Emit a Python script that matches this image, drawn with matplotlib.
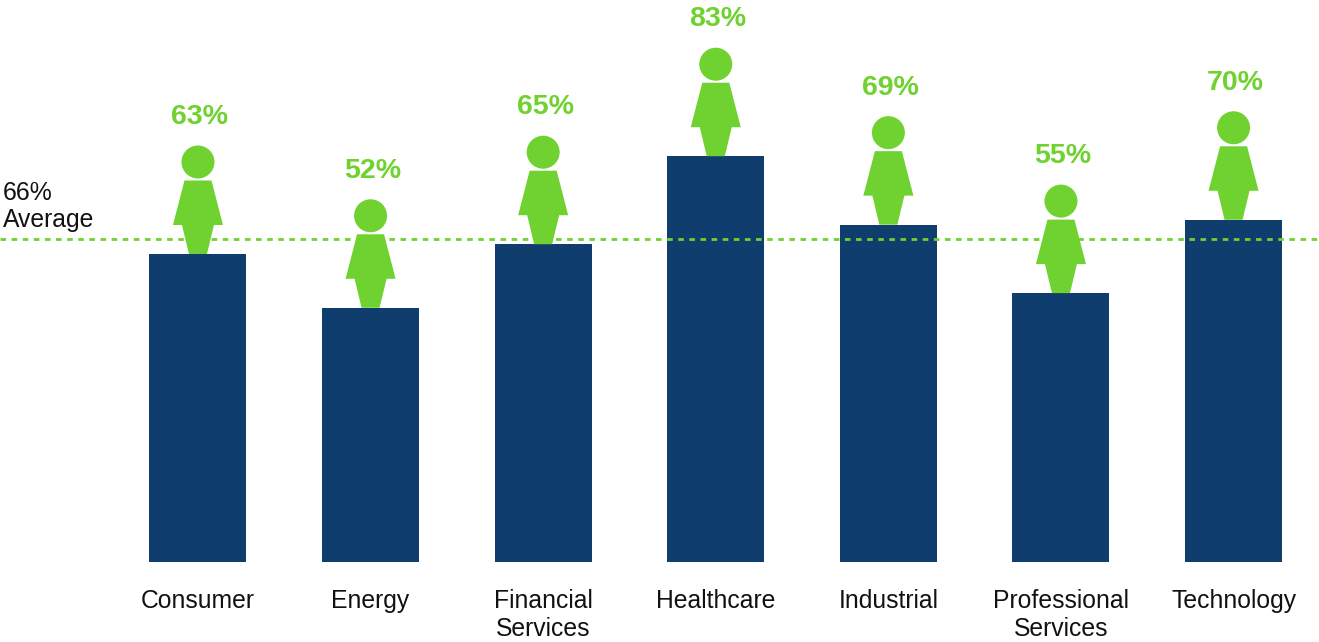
import matplotlib
matplotlib.use("Agg")
import matplotlib.pyplot as plt
from matplotlib.patches import Circle, PathPatch
from matplotlib.path import Path
from matplotlib.transforms import Affine2D

plt.rcParams['font.family'] = ['Liberation Sans', 'DejaVu Sans']

sectors = ["Consumer", "Energy", "Financial\nServices", "Healthcare",
           "Industrial", "Professional\nServices", "Technology"]
shares = [63, 52, 65, 83, 69, 55, 70]
average = 66
average_caption = "66%\nAverage"

GREEN = "#6FD230"
NAVY = "#0F3D6E"
INK = "#111111"

fig = plt.figure(figsize=(13.19, 6.42), dpi=100, facecolor="white")
ax = fig.add_axes([0, 0, 1, 1])

positions = range(len(sectors))
ax.bar(positions, shares, width=0.562, color=NAVY, zorder=2)

ax.set_xlim(-1.147, 6.495)
ax.set_ylim(-16.36, 114.95)
ax.set_xticks([])
ax.set_yticks([])
for spine in ax.spines.values():
    spine.set_visible(False)

# Sector names hang below the baseline of each bar
for i, name in enumerate(sectors):
    ax.annotate(name, xy=(i, 0), xytext=(0, -27), textcoords="offset pixels",
                ha="center", va="top", fontsize=17.8, color=INK, linespacing=1.2)

# Average reference line and its caption
ax.axhline(average, color=GREEN, lw=2.0, linestyle=(0, (2.0, 2.0)), zorder=3)
ax.annotate(average_caption, xy=(0, average), xycoords=("axes fraction", "data"),
            xytext=(3, 7), textcoords="offset pixels", ha="left", va="bottom",
            fontsize=17.8, color=INK, linespacing=1.2)

# Figure icon outline, in pixels relative to the foot centre on top of a bar
body_outline = [(-9, 0), (-16, 29), (-25, 29), (-13.5, 73.5), (13.5, 73.5),
                (25, 29), (16, 29), (9, 0), (-9, 0)]
body_path = Path(body_outline, closed=True)

for i, share in enumerate(shares):
    x_px, y_px = ax.transData.transform((i, share))
    to_screen = Affine2D().translate(x_px, y_px)
    ax.add_patch(PathPatch(body_path, facecolor=GREEN, edgecolor="none",
                           transform=to_screen, zorder=4))
    ax.add_patch(Circle((0, 92), 16.5, facecolor=GREEN, edgecolor="none",
                        transform=to_screen, zorder=4))
    ax.annotate(f"{share}%", xy=(i, share), xytext=(2, 137), textcoords="offset pixels",
                ha="center", va="center", fontsize=20.5, fontweight="bold", color=GREEN)

fig.savefig("out.png", dpi=100, facecolor="white")
